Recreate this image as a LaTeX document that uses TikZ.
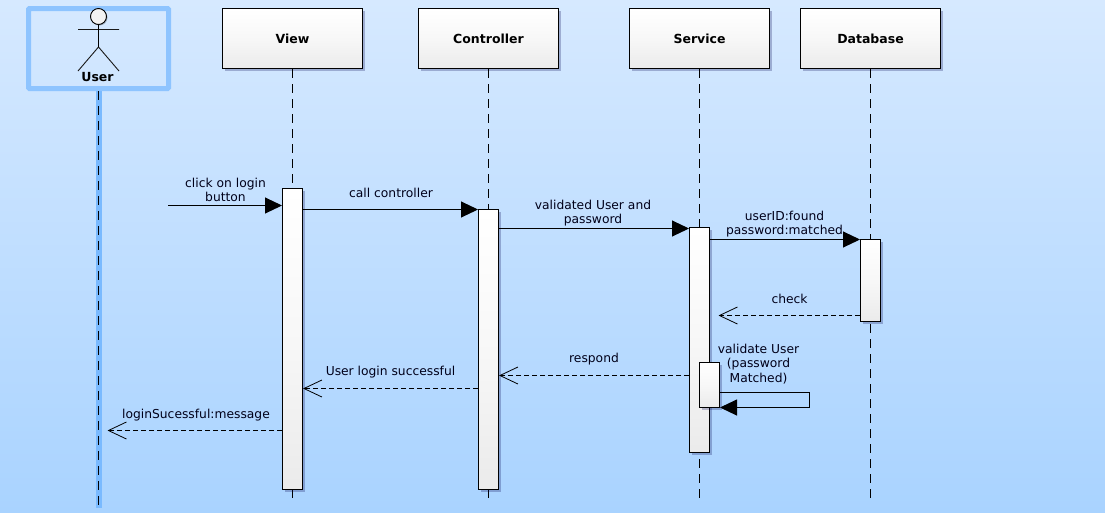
\documentclass[tikz,border=0pt]{standalone}
\usepackage{fontspec}
\setmainfont{DejaVu Sans}
\usetikzlibrary{arrows.meta,shadows}
\definecolor{bgtop}{HTML}{D6E9FF}
\definecolor{bgbot}{HTML}{A9D3FF}
\definecolor{actblue}{HTML}{7ABAFF}
\tikzset{
  x=1pt,y=-1pt,
  softshadow/.style={drop shadow={shadow xshift=2.5pt,shadow yshift=-2.5pt,opacity=.25,fill=black!70!blue}},
  headbox/.style={draw=black,line width=1pt,top color=white,bottom color=white!92!black,middle color=white!97!black,softshadow,
    minimum width=140pt,minimum height=60pt,inner sep=0pt,font=\fontsize{12.5}{14}\selectfont\bfseries},
  actbox/.style={draw=black,line width=1pt,top color=white,bottom color=white!92!black,middle color=white!97!black,softshadow,
    minimum width=20pt,inner sep=0pt},
  lifeline/.style={draw=black,line width=1pt,dash pattern=on 9pt off 6pt},
  sync/.style={draw=black,line width=1pt,-{Triangle[length=17pt,width=16pt]}},
  reply/.style={draw=black,line width=1pt,dash pattern=on 5pt off 3pt,-{Straight Barb[length=18pt,width=17pt,line width=.8pt]}},
  msg/.style={align=center,inner sep=0pt,font=\fontsize{12.3}{14.2}\selectfont,text=black!90!blue},
}
\begin{document}
\begin{tikzpicture}
\useasboundingbox (0,0) rectangle (1105,512);
\shade[top color=bgtop,bottom color=bgbot] (0,0) rectangle (1105,512);
% user column
\draw[actblue,line width=6pt] (98.5,88) -- (98.5,508);
\node[draw=actblue!85!white,line width=5pt,rounded corners=1pt,minimum width=140pt,minimum height=80pt,inner sep=0pt] (userbox) at (98.5,48.5) {};
\node[circle,draw=black,line width=.9pt,fill=white!95!black,minimum size=16pt,inner sep=0pt,drop shadow={shadow xshift=1pt,shadow yshift=-1pt,opacity=.25,fill=black}] (head) at (98.5,16.5) {};
\coordinate (armL) at (78,29.5); \coordinate (armR) at (119,29.5);
\coordinate (hip) at (98.5,47);
\coordinate (legL) at (78,71); \coordinate (legR) at (119,71);
\draw[line width=.9pt,black!90] (armL) -- (armR) (legL) -- (hip) -- (legR);
\draw[line width=1pt] (head.south) -- (hip);
\node[inner sep=0pt,font=\fontsize{12.5}{14}\selectfont\bfseries] (usertxt) at (97.5,77.5) {User};
\coordinate (userend) at (98.5,508);
\draw[lifeline] (userbox.south -| head) -- (userend);
% headers
\node[headbox] (view) at (292.5,38.5) {View};
\node[headbox] (ctrl) at (488.5,38.5) {Controller};
\node[headbox] (serv) at (699.5,38.5) {Service};
\node[headbox] (db) at (870.5,38.5) {Database};
% bottom ends
\coordinate (viewend) at (292.5,500);
\coordinate (ctrlend) at (488.5,500);
\coordinate (servend) at (699.5,500);
\coordinate (dbend) at (870.5,500);
% lifelines
\draw[lifeline] (view.south) -- (viewend);
\draw[lifeline] (ctrl.south) -- (ctrlend);
\draw[lifeline] (serv.south) -- (servend);
\draw[lifeline] (db.south) -- (dbend);
% activations
\node[actbox,minimum height=301pt] (aview) at (292.5,339) {};
\node[actbox,minimum height=280pt] (actrl) at (488.5,349.5) {};
\node[actbox,minimum height=225pt] (aserv) at (699.5,340) {};
\node[actbox,minimum height=82pt] (adb) at (870.5,280.5) {};
\node[actbox,minimum height=45pt] (ainner) at (709.5,385) {};
% free ends
\coordinate (start) at (168,205.5);
\coordinate (checktip) at (718.5,315.5);
\coordinate (usertip) at (107.5,430.5);
\coordinate (selfA) at (809.5,392.5);
\coordinate (selfB) at (809.5,407.5);
% messages
\draw[sync] (start) -- (start -| aview.west);
\draw[sync] (aview.east |- 0,209.5) -- (actrl.west |- 0,209.5);
\draw[sync] (actrl.east |- 0,228.5) -- (aserv.west |- 0,228.5);
\draw[sync] (aserv.east |- 0,239.5) -- (adb.west |- 0,239.5);
\draw[reply] (adb.west |- checktip) -- (checktip);
\draw[reply] (aserv.west |- 0,375.5) -- (actrl.east |- 0,375.5);
\draw[reply] (actrl.west |- 0,388.5) -- (aview.east |- 0,388.5);
\draw[reply] (aview.west |- usertip) -- (usertip);
\draw[sync] (ainner.east |- selfA) -- (selfA) -- (selfB) -- (selfB -| ainner.east);
% labels
\node[msg] (l1) at (225.5,190) {click on login\\button};
\node[msg] (l2) at (391,193) {call controller};
\node[msg] (l3) at (593,213) {validated User and\\password};
\node[msg] (l4) at (784.5,224.5) {userID:found\\password:matched};
\node[msg] (l5) at (789.5,299) {check};
\node[msg] (l6) at (594,359) {respond};
\node[msg] (l7) at (390.5,372) {User login successful};
\node[msg] (l8) at (196,415) {loginSucessful:message};
\node[msg] (l9) at (758.5,364) {validate User\\(password\\Matched)};
\end{tikzpicture}
\end{document}
